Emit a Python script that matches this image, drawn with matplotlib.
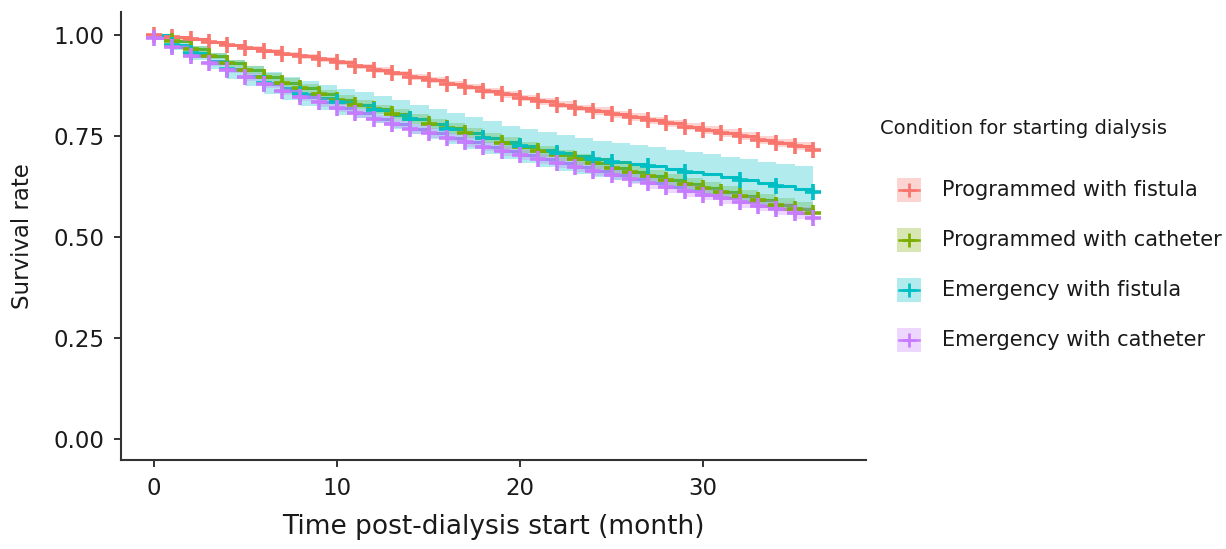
import matplotlib
matplotlib.use("Agg")
import matplotlib.pyplot as plt
import numpy as np
from matplotlib.patches import Rectangle
from matplotlib.lines import Line2D

months = list(range(0, 37))

labels = ["Programmed with fistula", "Programmed with catheter",
          "Emergency with fistula", "Emergency with catheter"]
colors = ["#F8766D", "#7CAE00", "#00BFC4", "#C77CFF"]

surv_prog_fistula = [1.000, 0.995, 0.989, 0.982, 0.975, 0.968, 0.961, 0.954, 0.947, 0.940, 0.932,
                     0.923, 0.914, 0.905, 0.896, 0.888, 0.880, 0.871, 0.862, 0.853, 0.844,
                     0.836, 0.828, 0.820, 0.812, 0.804, 0.797, 0.789, 0.781, 0.773, 0.765,
                     0.757, 0.749, 0.741, 0.733, 0.725, 0.715]
surv_prog_catheter = [1.000, 0.985, 0.965, 0.948, 0.930, 0.913, 0.897, 0.882, 0.868, 0.853, 0.840,
                      0.828, 0.816, 0.804, 0.792, 0.780, 0.769, 0.757, 0.745, 0.733, 0.722,
                      0.712, 0.702, 0.692, 0.682, 0.672, 0.662, 0.652, 0.641, 0.631, 0.621,
                      0.611, 0.601, 0.591, 0.580, 0.570, 0.560]
surv_emerg_fistula = [1.000, 0.975, 0.955, 0.935, 0.915, 0.898, 0.882, 0.868, 0.855, 0.845, 0.835,
                      0.827, 0.815, 0.803, 0.792, 0.780, 0.768, 0.757, 0.746, 0.735, 0.725,
                      0.716, 0.708, 0.700, 0.693, 0.686, 0.680, 0.675, 0.668, 0.662, 0.656,
                      0.648, 0.640, 0.633, 0.627, 0.620, 0.612]
surv_emerg_catheter = [0.993, 0.970, 0.948, 0.930, 0.914, 0.896, 0.878, 0.862, 0.847, 0.833, 0.820,
                       0.806, 0.792, 0.780, 0.768, 0.757, 0.746, 0.735, 0.724, 0.713, 0.703,
                       0.693, 0.683, 0.673, 0.663, 0.653, 0.643, 0.633, 0.623, 0.614, 0.605,
                       0.596, 0.587, 0.578, 0.569, 0.559, 0.548]

ci_prog_fistula = [0, .002, .003, .004, .004, .005, .005, .005, .006, .006, .006, .006, .007,
                   .007, .007, .007, .007, .008, .008, .008, .008, .008, .008, .008, .009, .009,
                   .009, .009, .009, .009, .009, .010, .010, .010, .010, .010, .010]
ci_prog_catheter = [0, .005, .007, .008, .009, .010, .010, .011, .011, .011, .012, .012, .012,
                    .012, .013, .013, .013, .013, .013, .014, .014, .014, .014, .014, .014, .015,
                    .015, .015, .015, .015, .015, .016, .016, .016, .016, .016, .016]
ci_emerg_fistula = [0, .012, .017, .020, .023, .025, .027, .028, .030, .031, .032, .033, .034,
                    .035, .036, .037, .038, .039, .040, .041, .042, .043, .044, .044, .045, .046,
                    .047, .047, .048, .049, .050, .051, .052, .053, .054, .055, .057]
ci_emerg_catheter = [0, .005, .006, .007, .008, .009, .009, .010, .010, .010, .011, .011, .011,
                     .011, .012, .012, .012, .012, .012, .012, .013, .013, .013, .013, .013, .013,
                     .013, .014, .014, .014, .014, .014, .014, .014, .015, .015, .015]

censor_prog_fistula = list(range(0, 37))
censor_prog_catheter = list(range(1, 37))
censor_emerg_fistula = [1, 2, 4, 6, 8, 10, 12, 14, 16, 18, 20, 22, 24, 25, 27, 29, 32, 34, 36]
censor_emerg_catheter = list(range(0, 37))

x_ticks = [0, 10, 20, 30]
y_ticks = [0.00, 0.25, 0.50, 0.75, 1.00]
y_ticklabels = ["0.00", "0.25", "0.50", "0.75", "1.00"]

series = [
    (surv_prog_fistula, ci_prog_fistula, censor_prog_fistula),
    (surv_prog_catheter, ci_prog_catheter, censor_prog_catheter),
    (surv_emerg_fistula, ci_emerg_fistula, censor_emerg_fistula),
    (surv_emerg_catheter, ci_emerg_catheter, censor_emerg_catheter),
]

plt.rcParams['font.family'] = ['DejaVu Sans']
W, H = 1226, 549
fig = plt.figure(figsize=(W / 100, H / 100), dpi=100)
ax_l, ax_r, ax_t, ax_b = 121, 866, 12, 460
ax = fig.add_axes([ax_l / W, 1 - ax_b / H, (ax_r - ax_l) / W, (ax_b - ax_t) / H])

LW, MS, MEW = 2.2, 12, 2.6
t = np.array(months, dtype=float)
for (s, ci, cens), c in zip(series, colors):
    s = np.array(s)
    ci = np.array(ci)
    ax.step(t, s, where='post', color=c, lw=LW, zorder=2)
    ax.fill_between(t, s - ci, s + ci, step='post', color=c, alpha=0.3, lw=0, zorder=3)
    cy = [s[months.index(m)] for m in cens]
    ax.plot(cens, cy, ls='none', marker='+', ms=MS, mew=MEW, color=c, zorder=4)

ax.set_xlim(-1.8, 38.9)
ax.set_ylim(-0.052, 1.057)
ax.set_xticks(x_ticks)
ax.set_yticks(y_ticks)
ax.set_yticklabels(y_ticklabels)
for side in ['top', 'right']:
    ax.spines[side].set_visible(False)
for side in ['left', 'bottom']:
    ax.spines[side].set_linewidth(1.5)
    ax.spines[side].set_color('#333333')
ax.tick_params(axis='both', length=5, width=1.4, color='#333333', labelsize=16.5,
               labelcolor='#1a1a1a', pad=7)
ax.set_xlabel("Time post-dialysis start (month)", fontsize=19, color='#1a1a1a', labelpad=10)
ax.set_ylabel("Survival rate", fontsize=16.5, color='#1a1a1a', labelpad=14)

# legend (drawn in figure pixel coordinates)
def fx(px):
    return px / W

def fy(py):
    return 1 - py / H

fig.text(fx(880), fy(128), "Condition for starting dialysis", fontsize=14,
         color='#1a1a1a', ha='left', va='center')
entry_y = [190, 240, 290, 340]
for lab, c, ey in zip(labels, colors, entry_y):
    fig.patches.append(Rectangle((fx(897), fy(ey + 12)), 24 / W, 24 / H, transform=fig.transFigure,
                                 facecolor=c, alpha=0.3, lw=0))
    fig.lines.append(Line2D([fx(899), fx(919)], [fy(ey), fy(ey)], transform=fig.transFigure,
                            color=c, lw=1.8))
    fig.lines.append(Line2D([fx(909)], [fy(ey)], transform=fig.transFigure, color=c,
                            marker='+', ms=10, mew=2.0, ls='none'))
    fig.text(fx(942), fy(ey), lab, fontsize=15, color='#1a1a1a', ha='left', va='center')

fig.savefig("out.png", dpi=100)
